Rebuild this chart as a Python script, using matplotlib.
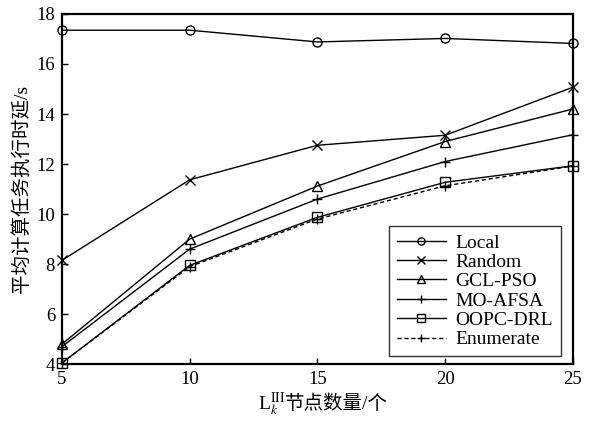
import numpy as np
import matplotlib
matplotlib.use("Agg")
import matplotlib.pyplot as plt
import matplotlib.transforms as mtransforms

plt.rcParams['font.family'] = ['Liberation Serif', 'Noto Sans CJK SC']
plt.rcParams['mathtext.fontset'] = 'stix'

# ===== DATOS =====
nodos = [5, 10, 15, 20, 25]
local = [17.35, 17.35, 16.88, 17.02, 16.82]
random_ = [8.15, 11.37, 12.75, 13.15, 15.07]
gcl_pso = [4.8, 9.0, 11.12, 12.9, 14.2]
mo_afsa = [4.7, 8.6, 10.6, 12.1, 13.17]
oopc_drl = [4.05, 7.95, 9.87, 11.27, 11.93]
enumerate_ = [4.05, 7.9, 9.8, 11.13, 11.92]

series = [
    ("Local", local, 'o', '-'),
    ("Random", random_, 'x', '-'),
    ("GCL-PSO", gcl_pso, '^', '-'),
    ("MO-AFSA", mo_afsa, '+', '-'),
    ("OOPC-DRL", oopc_drl, 's', '-'),
    ("Enumerate", enumerate_, '+', (0, (3, 2))),
]

# ===== FIGURA =====
fig = plt.figure(figsize=(5.9, 4.22), dpi=100)
ax = fig.add_axes([0.105, 0.137, 0.866, 0.830])

for nombre, valores, marcador, estilo in series:
    ax.plot(nodos, valores, color='black', linestyle=estilo, linewidth=1.0,
            marker=marcador, markersize=6.5, markerfacecolor='none',
            markeredgecolor='black', markeredgewidth=1.0, label=nombre,
            clip_on=False)

ax.set_xlim(5, 25)
ax.set_ylim(4, 18)
ax.set_xticks([5, 10, 15, 20, 25])
ax.set_yticks([4, 6, 8, 10, 12, 14, 16, 18])
ax.tick_params(direction='in', length=4, width=1, labelsize=13.5,
               top=False, right=False, pad=5)
for s in ax.spines.values():
    s.set_linewidth(1.6)

ax.set_ylabel('平均计算任务执行时延/s', fontsize=14, labelpad=4)

# etiqueta x en dos partes (mathtext no tiene glifos CJK)
trans = mtransforms.blended_transform_factory(ax.transAxes, fig.transFigure)
ax.text(0.437, 0.03, r'L$_{k}^{\mathrm{III}}$', transform=trans, fontsize=14,
        ha='right', va='baseline')
ax.text(0.437, 0.03, '节点数量/个', transform=trans, fontsize=14,
        ha='left', va='baseline')

leg = ax.legend(loc='lower right', bbox_to_anchor=(0.9765, 0.023),
                fontsize=14, frameon=True, fancybox=False,
                edgecolor='black', handlelength=2.5, handletextpad=0.5,
                borderpad=0.4, labelspacing=0.09, borderaxespad=0.0,
                markerscale=0.8)
leg.get_frame().set_linewidth(1.0)

fig.savefig("out.png", dpi=100)
